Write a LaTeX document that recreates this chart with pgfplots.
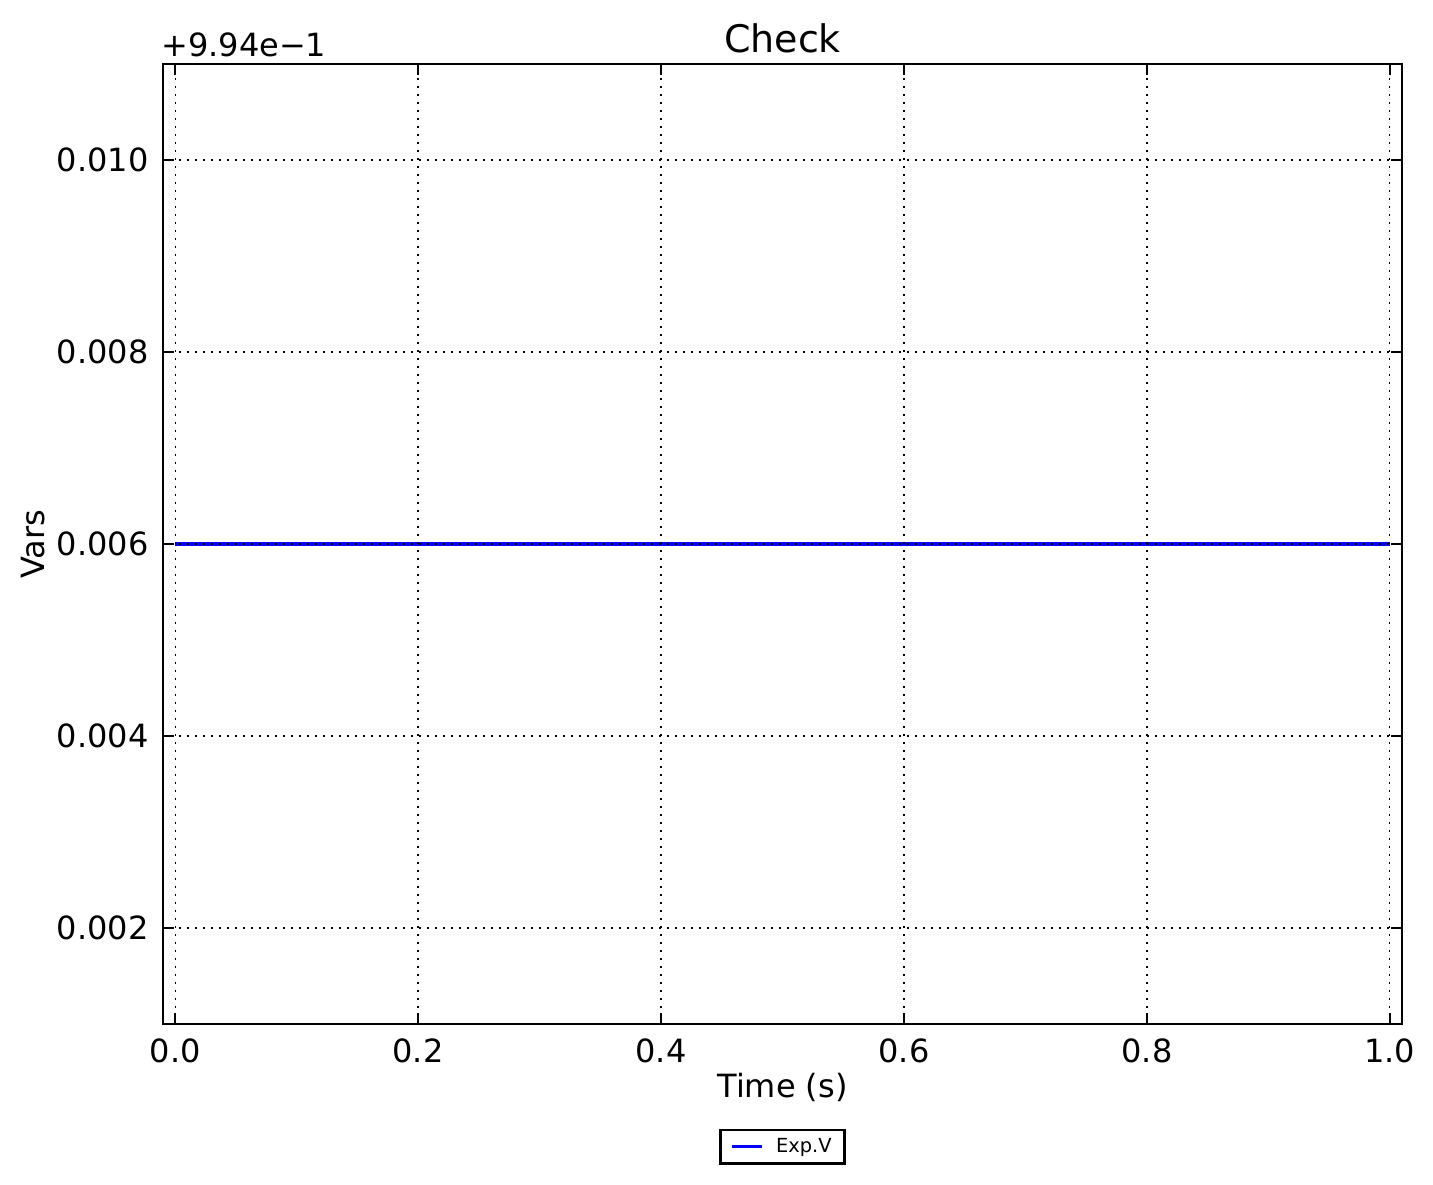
\documentclass[border=0pt]{standalone}
\usepackage{fontspec}
\setmainfont{DejaVu Sans}
\usepackage{pgfplots}
\pgfplotsset{compat=1.18}
\begin{document}
\begin{tikzpicture}
\useasboundingbox (-81.5pt,-80pt) rectangle (635pt,512pt);
\begin{axis}[
  scale only axis,
  width=619.5pt, height=480pt,
  xmin=-0.01, xmax=1.01,
  ymin=0.001, ymax=0.011,
  xtick={0,0.2,0.4,0.6,0.8,1.0},
  ytick={0.002,0.004,0.006,0.008,0.010},
  /pgf/number format/assume math mode=true,
  xticklabel style={/pgf/number format/.cd,fixed,fixed zerofill,precision=1,/tikz/.cd,anchor=base,inner sep=0pt,yshift=-19pt},
  yticklabel style={/pgf/number format/.cd,fixed,fixed zerofill,precision=3,/tikz/.cd,anchor=east,inner sep=0pt,xshift=-7pt},
  scaled y ticks=false,
  tick label style={font=\fontsize{16}{19}\selectfont},
  label style={font=\fontsize{16}{19}\selectfont},
  xlabel={Time (s)},
  ylabel={Vars},
  xlabel style={at={(axis description cs:0.5,0)},anchor=base,yshift=-36.5pt,inner sep=0pt},
  ylabel style={at={(axis description cs:0,0.5)},anchor=base,yshift=59pt,inner sep=0pt},
  title={Check},
  title style={font=\fontsize{19}{23}\selectfont,at={(axis description cs:0.5,1)},anchor=base,yshift=-0.5pt,inner sep=0pt},
  tick align=inside,
  xtick pos=both, ytick pos=both,
  major tick length=5.3pt,
  every tick/.style={black,line width=0.67pt},
  axis line style={line width=1.45pt},
  grid=major,
  major grid style={black,line width=0.6pt,dash pattern=on 0.8pt off 3.2pt},
  axis on top,
  clip=true,
  legend style={at={(axis description cs:0.5,-0.128)},anchor=center,draw=black,line width=1.2pt,
    font=\fontsize{9.7}{11}\selectfont,inner xsep=5pt,inner ysep=2.6pt,
    nodes={inner sep=1.5pt}},
  legend image code/.code={\draw[blue,line width=1.4pt] (-1.5pt,0pt) -- (13.5pt,0pt);},
  y filter/.expression={y-0.994},
]
\addplot[blue,line width=1.6pt] coordinates {(0,1.0) (0.25,1.0) (0.5,1.0) (0.75,1.0) (1.0,1.0)};
\addlegendentry{\hspace{5pt}Exp.V}
\end{axis}
\node[anchor=base west,inner sep=0pt,font=\fontsize{16}{19}\selectfont] at (-1pt,483.5pt) {+9.94e−1};
\end{tikzpicture}
\end{document}
